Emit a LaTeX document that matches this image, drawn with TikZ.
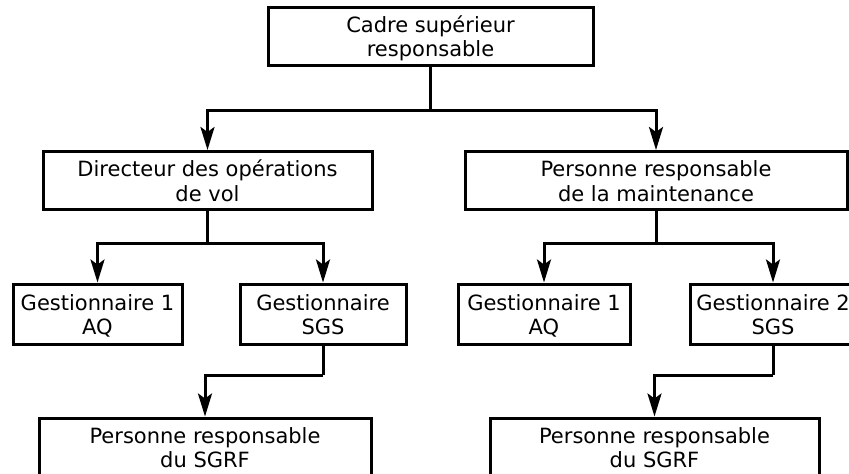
\documentclass[tikz,border=0pt]{standalone}
\usepackage{fontspec}
\setmainfont{DejaVu Sans}
\usepackage{tikz}
\usetikzlibrary{arrows.meta}
\newcommand{\boxlbl}[1]{\raisebox{-3.5pt}[\height][\depth]{\begin{tabular}{@{}c@{}}#1\end{tabular}}}
\tikzstyle{box} = [rectangle, minimum height=58pt, inner sep=0pt, draw=black, line width=3pt, font=\fontsize{21}{24.5}\selectfont]
\tikzstyle{arrow} = [line width=3pt, -{Stealth[length=23pt, width=14pt, inset=5pt]}]
\tikzstyle{line} = [line width=3pt]

\begin{document}
\begin{tikzpicture}[x=1pt, y=-1pt]
\path[use as bounding box, clip] (0,0) rectangle (849,474);
\fill[white] (0,0) rectangle (849,474);
\node (cadre) [box, minimum width=325pt] at (430.5,36) {\boxlbl{Cadre supérieur\\responsable}};
\node (dov) [box, minimum width=329pt] at (207.5,180.5) {\boxlbl{Directeur des opérations\\de vol}};
\node (prm) [box, minimum width=382pt] at (656,180.5) {\boxlbl{Personne responsable\\de la maintenance}};
\node (aqa) [box, minimum width=169pt, minimum height=60pt] at (97.5,314) {\boxlbl{Gestionnaire 1\\AQ}};
\node (sgsa) [box, minimum width=166pt, minimum height=60pt] at (323,314) {\boxlbl{Gestionnaire\\SGS}};
\node (aqb) [box, minimum width=172pt, minimum height=60pt] at (544,314) {\boxlbl{Gestionnaire 1\\AQ}};
\node (sgsb) [box, minimum width=166pt, minimum height=60pt] at (773,314) {\boxlbl{Gestionnaire 2\\SGS}};
\node (sgrfa) [box, minimum width=332pt] at (205,447) {\boxlbl{Personne responsable\\du SGRF}};
\node (sgrfb) [box, minimum width=329pt] at (654.5,447) {\boxlbl{Personne responsable\\du SGRF}};
\coordinate (j1) at (430.5,110);
\coordinate (j2) at (207.5,243);
\coordinate (j3) at (656,243);
\coordinate (j4) at (323,375);
\coordinate (j5) at (773,375);
\draw [line] (cadre) -- (j1);
\draw [arrow] (j1) -| (dov);
\draw [arrow] (j1) -| (prm);
\draw [line] (dov) -- (j2);
\draw [arrow] (j2) -| (aqa);
\draw [arrow] (j2) -| (sgsa);
\draw [line] (prm) -- (j3);
\draw [arrow] (j3) -| (aqb);
\draw [arrow] (j3) -| (sgsb);
\draw [line] (sgsa) -- (j4);
\draw [arrow] (j4) -| (sgrfa);
\draw [line] (sgsb) -- (j5);
\draw [arrow] (j5) -| (sgrfb);
\end{tikzpicture}
\end{document}
